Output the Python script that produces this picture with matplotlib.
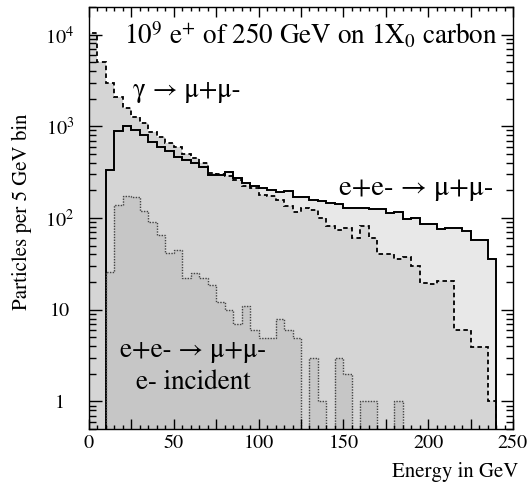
import matplotlib
matplotlib.use("Agg")
import matplotlib.pyplot as plt
import numpy as np
from matplotlib.ticker import MultipleLocator, LogLocator, FuncFormatter, NullFormatter

plt.rcParams['font.family'] = ['STIXGeneral', 'Liberation Serif', 'DejaVu Serif']
plt.rcParams['mathtext.fontset'] = 'stix'

# 5 GeV bins from 0 to 250 GeV
edges = np.arange(0, 255, 5)

# gamma -> mu+mu- (dashed)
gamma_mumu = np.array([
    10500, 5050, 3000, 2100, 1600, 1270, 1080, 870, 768, 650,
    590, 500, 450, 394, 310, 300, 290, 260, 225, 210,
    178, 175, 156, 135, 117, 130, 122, 99, 81, 74,
    77, 60, 81, 61, 41, 41, 36, 38, 30, 19.5,
    19, 20.6, 20.6, 6, 6, 3.9, 3.9, 1.0, 0, 0])

# e+e- -> mu+mu-, positron incident (solid)
ee_pos = np.array([
    0, 0, 330, 890, 1000, 910, 800, 680, 600, 535,
    465, 430, 395, 360, 295, 295, 320, 270, 240, 222,
    210, 200, 190, 198, 168, 168, 156, 152, 144, 142,
    130, 128, 127, 126, 125, 112, 117, 98, 99, 87,
    85, 75, 78, 77, 72, 58, 58, 36, 0, 0])

# e+e- -> mu+mu-, electron incident (dotted)
ee_ele = np.array([
    0, 0, 26, 140, 172, 168, 120, 91, 66, 42,
    45, 22, 25, 22, 18.8, 12, 10, 6.9, 10.9, 6.0,
    4.9, 4.9, 7.9, 6.0, 4.9, 0, 3, 1, 0, 3,
    2, 0, 1, 1, 0, 0, 1, 0, 0, 0,
    0, 0, 0, 0, 0, 0, 0, 0, 0, 0])

floor = 0.01
def clip(v):
    return np.where(v > 0, v, floor)

fig = plt.figure(figsize=(5.28, 4.87), dpi=100)
ax = fig.add_axes([89/528, 1-429/487, (513-89)/528, (429-7)/487])

# fills, back to front
ax.stairs(clip(ee_pos), edges, baseline=floor, fill=True, color='#e8e8e8', lw=0)
ax.stairs(clip(gamma_mumu), edges, baseline=floor, fill=True, color='#d5d5d5', lw=0)
ax.stairs(clip(ee_ele), edges, baseline=floor, fill=True, color='#c6c6c6', lw=0)

# outlines
ax.stairs(clip(ee_pos), edges, baseline=floor, color='black', lw=1.4)
ax.stairs(clip(gamma_mumu), edges, baseline=floor, color='black', lw=1.3,
          linestyle=(0, (2.5, 1.8)))
ax.stairs(clip(ee_ele), edges, baseline=floor, color='#444444', lw=1.0,
          linestyle=(0, (1, 1)))

ax.set_yscale('log')
ax.set_xlim(0, 250)
ax.set_ylim(0.5, 2e4)

ax.xaxis.set_major_locator(MultipleLocator(25))
ax.xaxis.set_minor_locator(MultipleLocator(5))
ax.xaxis.set_major_formatter(FuncFormatter(lambda v, p: f"{v:.0f}" if v % 50 == 0 else ""))

def ylab(v, p):
    e = int(round(np.log10(v)))
    if e == 0:
        return "1"
    if e == 1:
        return "10"
    return r"$10^{%d}$" % e

ax.yaxis.set_major_locator(LogLocator(base=10, numticks=10))
ax.yaxis.set_minor_locator(LogLocator(base=10, subs=np.arange(2, 10), numticks=20))
ax.yaxis.set_major_formatter(FuncFormatter(ylab))
ax.yaxis.set_minor_formatter(NullFormatter())

ax.tick_params(axis='both', which='both', direction='in', top=True, right=True,
               labelsize=14.5, width=1.0, color='black')
ax.tick_params(axis='x', which='major', length=7, pad=4)
ax.tick_params(axis='x', which='minor', length=3)
ax.tick_params(axis='y', which='major', length=9, pad=21)
ax.tick_params(axis='y', which='minor', length=5)
for lab in ax.get_yticklabels():
    lab.set_horizontalalignment('center')

for s in ax.spines.values():
    s.set_linewidth(1.0)

fs = 19.5
ax.text(131, 7890, r"$10^9$ e$^{+}$ of 250 GeV on 1X$_0$ carbon",
        ha='center', va='baseline', fontsize=fs)
ax.text(57.6, 2080, "γ → μ+μ-", ha='center', va='baseline', fontsize=fs)
ax.text(193, 177, "e+e- → μ+μ-", ha='center', va='baseline', fontsize=20.5)
ax.text(61.5, 3.05, "e+e- → μ+μ-", ha='center', va='baseline', fontsize=fs)
ax.text(61.5, 1.38, "e- incident", ha='center', va='baseline', fontsize=fs)

fig.text(22/528, 1-212/487, "Particles per 5 GeV bin", rotation=90,
         ha='center', va='center', fontsize=15)
fig.text(518/528, 1-477/487, "Energy in GeV", ha='right', va='baseline', fontsize=15)

fig.savefig("out.png", dpi=100)
